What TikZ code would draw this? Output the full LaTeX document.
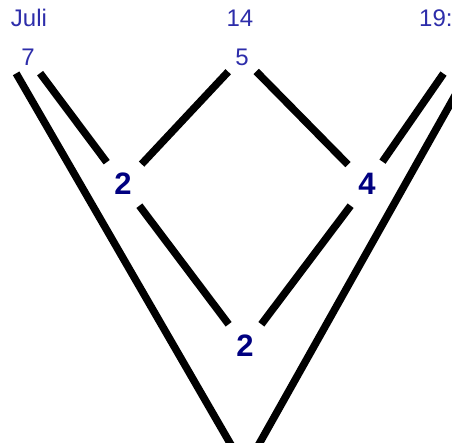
\documentclass[tikz,border=0pt]{standalone}
\usepackage{fontspec}
\setmainfont{Liberation Sans}
\definecolor{datblue}{RGB}{45,45,170}
\definecolor{cntnavy}{RGB}{0,0,128}

\begin{document}
\begin{tikzpicture}[
    x=1pt, y=-1pt,
    date/.style={text=datblue, inner sep=0pt, font=\fontsize{24}{24}\selectfont},
    top/.style={circle, minimum size=40pt, inner sep=0pt, text=datblue, font=\fontsize{24}{24}\selectfont},
    count/.style={circle, minimum size=54pt, inner sep=0pt, text=cntnavy, font=\fontsize{31}{31}\selectfont\bfseries},
    link/.style={line width=7.5pt, black}
]
\useasboundingbox (0,0) rectangle (452,443);
\node[date] (juli) at (29,18) {Juli};
\node[date] (d14) at (240,18) {14};
\node[date, anchor=west] (d19) at (419,18) {19:};
\node[top] (n7) at (28,57) {7};
\node[top] (n5) at (242,57) {5};
\node[top] (n19) at (455,57) {};
\node[count] (m2) at (123,184) {2};
\node[count] (m4) at (367,184) {4};
\node[count] (b2) at (245,346) {2};
\node[count] (bot) at (245,469) {};
\draw[link] (n7) -- (m2);
\draw[link] (n5) -- (m2);
\draw[link] (n5) -- (m4);
\draw[link] (n19) -- (m4);
\draw[link] (m2) -- (b2);
\draw[link] (m4) -- (b2);
\draw[link] (n7.234) -- (bot);
\draw[link] (n19.310) -- (bot);
\end{tikzpicture}
\end{document}
